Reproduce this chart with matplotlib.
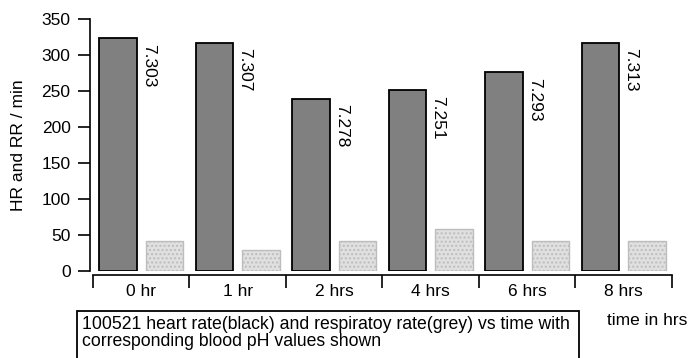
import matplotlib
matplotlib.use("Agg")
from matplotlib import pyplot as plt
from matplotlib.patches import Rectangle

times = ["0 hr", "1 hr", "2 hrs", "4 hrs", "6 hrs", "8 hrs"]
heart_rate = [323, 317, 239, 251, 276, 317]
resp_rate = [41, 29, 41, 59, 41, 41]
ph_values = ["7.303", "7.307", "7.278", "7.251", "7.293", "7.313"]

plt.rcParams["font.family"] = ["Liberation Sans", "DejaVu Sans"]

fig = plt.figure(figsize=(6.9, 3.58), dpi=100)
ax = fig.add_axes([0.1348, 0.243, 0.839, 0.704])

pos = range(len(times))
hr_x = [p + 0.258 for p in pos]
rr_x = [p + 0.742 for p in pos]

ax.bar(hr_x, heart_rate, width=0.39, color="#808080", edgecolor="black", linewidth=1.3)
ax.bar(rr_x, resp_rate, width=0.39, color="#e0e0e0", edgecolor="#bdbdbd",
       hatch="....", linewidth=1)

for x, h, s in zip(hr_x, heart_rate, ph_values):
    ax.annotate(s, (x + 0.24, h), xytext=(0, -4), textcoords="offset points",
                rotation=270, ha="left", va="top", fontsize=12.5)

ax.set_xlim(0, len(times))
ax.set_ylim(0, 350)

for side in ["top", "right"]:
    ax.spines[side].set_visible(False)
ax.spines["left"].set_position(("outward", 2.2))
ax.spines["bottom"].set_position(("outward", 3))
ax.spines["left"].set_linewidth(1.2)
ax.spines["bottom"].set_linewidth(1.2)

ax.set_yticks(range(0, 351, 50))
ax.tick_params(axis="y", labelsize=12.5, length=9, width=1.2, pad=5)

ax.set_xticks(range(len(times) + 1))
ax.set_xticklabels([])
ax.tick_params(axis="x", which="major", length=9, width=1.2)
ax.set_xticks([p + 0.5 for p in pos], minor=True)
ax.set_xticklabels(times, minor=True, fontsize=12.5)
ax.tick_params(axis="x", which="minor", length=0, pad=6)

ax.set_ylabel("HR and RR / min", fontsize=12.5, labelpad=11)

fig.text(0.88, 0.105, "time in hrs", fontsize=12.5, ha="left", va="center")

fig.patches.append(Rectangle((0.1116, -0.02), 0.7275, 0.151, transform=fig.transFigure,
                             facecolor="white", edgecolor="black", linewidth=1.3))
fig.text(0.119, 0.071,
         "100521 heart rate(black) and respiratoy rate(grey) vs time with\n"
         "corresponding blood pH values shown",
         fontsize=12.7, ha="left", va="center", linespacing=1.0)

fig.savefig("out.png", dpi=100)
